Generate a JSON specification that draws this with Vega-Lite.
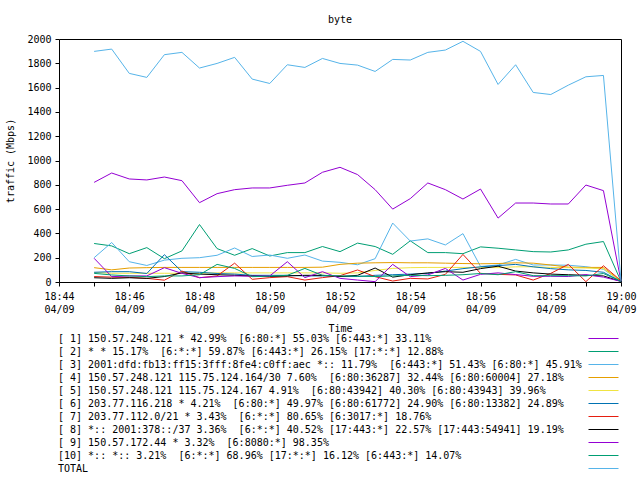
{
"$schema": "https://vega.github.io/schema/vega-lite/v6.json",
"width": 562, "height": 243,
"autosize": {"type": "none"},
"padding": {"left": 59, "top": 39, "right": 19, "bottom": 198},
"background": "white",
"title": {"text": "byte", "offset": 9, "font": "DejaVu Sans Mono", "fontSize": 10, "fontWeight": "normal", "color": "black", "anchor": "middle"},
"data": {"values": [
{"k":1,"t":"2021-04-09T18:45:00","v":820},{"k":1,"t":"2021-04-09T18:45:30","v":897},{"k":1,"t":"2021-04-09T18:46:00","v":848},{"k":1,"t":"2021-04-09T18:46:30","v":840},{"k":1,"t":"2021-04-09T18:47:00","v":864},{"k":1,"t":"2021-04-09T18:47:30","v":834},{"k":1,"t":"2021-04-09T18:48:00","v":653},{"k":1,"t":"2021-04-09T18:48:30","v":727},{"k":1,"t":"2021-04-09T18:49:00","v":760},{"k":1,"t":"2021-04-09T18:49:30","v":774},{"k":1,"t":"2021-04-09T18:50:00","v":774},{"k":1,"t":"2021-04-09T18:50:30","v":796},{"k":1,"t":"2021-04-09T18:51:00","v":815},{"k":1,"t":"2021-04-09T18:51:30","v":903},{"k":1,"t":"2021-04-09T18:52:00","v":944},{"k":1,"t":"2021-04-09T18:52:30","v":884},{"k":1,"t":"2021-04-09T18:53:00","v":760},{"k":1,"t":"2021-04-09T18:53:30","v":600},{"k":1,"t":"2021-04-09T18:54:00","v":686},{"k":1,"t":"2021-04-09T18:54:30","v":815},{"k":1,"t":"2021-04-09T18:55:00","v":760},{"k":1,"t":"2021-04-09T18:55:30","v":683},{"k":1,"t":"2021-04-09T18:56:00","v":765},{"k":1,"t":"2021-04-09T18:56:30","v":526},{"k":1,"t":"2021-04-09T18:57:00","v":650},{"k":1,"t":"2021-04-09T18:57:30","v":650},{"k":1,"t":"2021-04-09T18:58:00","v":642},{"k":1,"t":"2021-04-09T18:58:30","v":642},{"k":1,"t":"2021-04-09T18:59:00","v":798},{"k":1,"t":"2021-04-09T18:59:30","v":752},{"k":1,"t":"2021-04-09T19:00:00","v":5},
{"k":2,"t":"2021-04-09T18:45:00","v":317},{"k":2,"t":"2021-04-09T18:45:30","v":297},{"k":2,"t":"2021-04-09T18:46:00","v":233},{"k":2,"t":"2021-04-09T18:46:30","v":283},{"k":2,"t":"2021-04-09T18:47:00","v":192},{"k":2,"t":"2021-04-09T18:47:30","v":256},{"k":2,"t":"2021-04-09T18:48:00","v":473},{"k":2,"t":"2021-04-09T18:48:30","v":275},{"k":2,"t":"2021-04-09T18:49:00","v":220},{"k":2,"t":"2021-04-09T18:49:30","v":275},{"k":2,"t":"2021-04-09T18:50:00","v":214},{"k":2,"t":"2021-04-09T18:50:30","v":242},{"k":2,"t":"2021-04-09T18:51:00","v":242},{"k":2,"t":"2021-04-09T18:51:30","v":292},{"k":2,"t":"2021-04-09T18:52:00","v":250},{"k":2,"t":"2021-04-09T18:52:30","v":320},{"k":2,"t":"2021-04-09T18:53:00","v":292},{"k":2,"t":"2021-04-09T18:53:30","v":228},{"k":2,"t":"2021-04-09T18:54:00","v":339},{"k":2,"t":"2021-04-09T18:54:30","v":242},{"k":2,"t":"2021-04-09T18:55:00","v":242},{"k":2,"t":"2021-04-09T18:55:30","v":233},{"k":2,"t":"2021-04-09T18:56:00","v":289},{"k":2,"t":"2021-04-09T18:56:30","v":278},{"k":2,"t":"2021-04-09T18:57:00","v":264},{"k":2,"t":"2021-04-09T18:57:30","v":250},{"k":2,"t":"2021-04-09T18:58:00","v":247},{"k":2,"t":"2021-04-09T18:58:30","v":264},{"k":2,"t":"2021-04-09T18:59:00","v":311},{"k":2,"t":"2021-04-09T18:59:30","v":333},{"k":2,"t":"2021-04-09T19:00:00","v":5},
{"k":3,"t":"2021-04-09T18:45:00","v":200},{"k":3,"t":"2021-04-09T18:45:30","v":325},{"k":3,"t":"2021-04-09T18:46:00","v":167},{"k":3,"t":"2021-04-09T18:46:30","v":136},{"k":3,"t":"2021-04-09T18:47:00","v":180},{"k":3,"t":"2021-04-09T18:47:30","v":195},{"k":3,"t":"2021-04-09T18:48:00","v":200},{"k":3,"t":"2021-04-09T18:48:30","v":220},{"k":3,"t":"2021-04-09T18:49:00","v":280},{"k":3,"t":"2021-04-09T18:49:30","v":210},{"k":3,"t":"2021-04-09T18:50:00","v":222},{"k":3,"t":"2021-04-09T18:50:30","v":195},{"k":3,"t":"2021-04-09T18:51:00","v":222},{"k":3,"t":"2021-04-09T18:51:30","v":172},{"k":3,"t":"2021-04-09T18:52:00","v":162},{"k":3,"t":"2021-04-09T18:52:30","v":142},{"k":3,"t":"2021-04-09T18:53:00","v":192},{"k":3,"t":"2021-04-09T18:53:30","v":485},{"k":3,"t":"2021-04-09T18:54:00","v":337},{"k":3,"t":"2021-04-09T18:54:30","v":355},{"k":3,"t":"2021-04-09T18:55:00","v":305},{"k":3,"t":"2021-04-09T18:55:30","v":398},{"k":3,"t":"2021-04-09T18:56:00","v":128},{"k":3,"t":"2021-04-09T18:56:30","v":140},{"k":3,"t":"2021-04-09T18:57:00","v":186},{"k":3,"t":"2021-04-09T18:57:30","v":140},{"k":3,"t":"2021-04-09T18:58:00","v":140},{"k":3,"t":"2021-04-09T18:58:30","v":138},{"k":3,"t":"2021-04-09T18:59:00","v":126},{"k":3,"t":"2021-04-09T18:59:30","v":105},{"k":3,"t":"2021-04-09T19:00:00","v":5},
{"k":4,"t":"2021-04-09T18:45:00","v":118},{"k":4,"t":"2021-04-09T18:45:30","v":100},{"k":4,"t":"2021-04-09T18:46:00","v":115},{"k":4,"t":"2021-04-09T18:46:30","v":118},{"k":4,"t":"2021-04-09T18:47:00","v":120},{"k":4,"t":"2021-04-09T18:47:30","v":120},{"k":4,"t":"2021-04-09T18:48:00","v":120},{"k":4,"t":"2021-04-09T18:48:30","v":120},{"k":4,"t":"2021-04-09T18:49:00","v":120},{"k":4,"t":"2021-04-09T18:49:30","v":120},{"k":4,"t":"2021-04-09T18:50:00","v":120},{"k":4,"t":"2021-04-09T18:50:30","v":120},{"k":4,"t":"2021-04-09T18:51:00","v":120},{"k":4,"t":"2021-04-09T18:51:30","v":122},{"k":4,"t":"2021-04-09T18:52:00","v":145},{"k":4,"t":"2021-04-09T18:52:30","v":155},{"k":4,"t":"2021-04-09T18:53:00","v":158},{"k":4,"t":"2021-04-09T18:53:30","v":160},{"k":4,"t":"2021-04-09T18:54:00","v":158},{"k":4,"t":"2021-04-09T18:54:30","v":158},{"k":4,"t":"2021-04-09T18:55:00","v":155},{"k":4,"t":"2021-04-09T18:55:30","v":152},{"k":4,"t":"2021-04-09T18:56:00","v":150},{"k":4,"t":"2021-04-09T18:56:30","v":152},{"k":4,"t":"2021-04-09T18:57:00","v":158},{"k":4,"t":"2021-04-09T18:57:30","v":155},{"k":4,"t":"2021-04-09T18:58:00","v":140},{"k":4,"t":"2021-04-09T18:58:30","v":122},{"k":4,"t":"2021-04-09T18:59:00","v":120},{"k":4,"t":"2021-04-09T18:59:30","v":120},{"k":4,"t":"2021-04-09T19:00:00","v":5},
{"k":5,"t":"2021-04-09T18:45:00","v":78},{"k":5,"t":"2021-04-09T18:45:30","v":72},{"k":5,"t":"2021-04-09T18:46:00","v":72},{"k":5,"t":"2021-04-09T18:46:30","v":72},{"k":5,"t":"2021-04-09T18:47:00","v":72},{"k":5,"t":"2021-04-09T18:47:30","v":72},{"k":5,"t":"2021-04-09T18:48:00","v":72},{"k":5,"t":"2021-04-09T18:48:30","v":75},{"k":5,"t":"2021-04-09T18:49:00","v":75},{"k":5,"t":"2021-04-09T18:49:30","v":75},{"k":5,"t":"2021-04-09T18:50:00","v":75},{"k":5,"t":"2021-04-09T18:50:30","v":75},{"k":5,"t":"2021-04-09T18:51:00","v":75},{"k":5,"t":"2021-04-09T18:51:30","v":75},{"k":5,"t":"2021-04-09T18:52:00","v":72},{"k":5,"t":"2021-04-09T18:52:30","v":75},{"k":5,"t":"2021-04-09T18:53:00","v":95},{"k":5,"t":"2021-04-09T18:53:30","v":112},{"k":5,"t":"2021-04-09T18:54:00","v":118},{"k":5,"t":"2021-04-09T18:54:30","v":120},{"k":5,"t":"2021-04-09T18:55:00","v":120},{"k":5,"t":"2021-04-09T18:55:30","v":120},{"k":5,"t":"2021-04-09T18:56:00","v":120},{"k":5,"t":"2021-04-09T18:56:30","v":118},{"k":5,"t":"2021-04-09T18:57:00","v":125},{"k":5,"t":"2021-04-09T18:57:30","v":125},{"k":5,"t":"2021-04-09T18:58:00","v":120},{"k":5,"t":"2021-04-09T18:58:30","v":118},{"k":5,"t":"2021-04-09T18:59:00","v":115},{"k":5,"t":"2021-04-09T18:59:30","v":110},{"k":5,"t":"2021-04-09T19:00:00","v":5},
{"k":6,"t":"2021-04-09T18:45:00","v":80},{"k":6,"t":"2021-04-09T18:45:30","v":85},{"k":6,"t":"2021-04-09T18:46:00","v":85},{"k":6,"t":"2021-04-09T18:46:30","v":70},{"k":6,"t":"2021-04-09T18:47:00","v":225},{"k":6,"t":"2021-04-09T18:47:30","v":85},{"k":6,"t":"2021-04-09T18:48:00","v":80},{"k":6,"t":"2021-04-09T18:48:30","v":70},{"k":6,"t":"2021-04-09T18:49:00","v":65},{"k":6,"t":"2021-04-09T18:49:30","v":55},{"k":6,"t":"2021-04-09T18:50:00","v":55},{"k":6,"t":"2021-04-09T18:50:30","v":55},{"k":6,"t":"2021-04-09T18:51:00","v":50},{"k":6,"t":"2021-04-09T18:51:30","v":50},{"k":6,"t":"2021-04-09T18:52:00","v":45},{"k":6,"t":"2021-04-09T18:52:30","v":45},{"k":6,"t":"2021-04-09T18:53:00","v":55},{"k":6,"t":"2021-04-09T18:53:30","v":60},{"k":6,"t":"2021-04-09T18:54:00","v":65},{"k":6,"t":"2021-04-09T18:54:30","v":70},{"k":6,"t":"2021-04-09T18:55:00","v":90},{"k":6,"t":"2021-04-09T18:55:30","v":110},{"k":6,"t":"2021-04-09T18:56:00","v":125},{"k":6,"t":"2021-04-09T18:56:30","v":135},{"k":6,"t":"2021-04-09T18:57:00","v":145},{"k":6,"t":"2021-04-09T18:57:30","v":125},{"k":6,"t":"2021-04-09T18:58:00","v":110},{"k":6,"t":"2021-04-09T18:58:30","v":100},{"k":6,"t":"2021-04-09T18:59:00","v":95},{"k":6,"t":"2021-04-09T18:59:30","v":80},{"k":6,"t":"2021-04-09T19:00:00","v":5},
{"k":7,"t":"2021-04-09T18:45:00","v":45},{"k":7,"t":"2021-04-09T18:45:30","v":40},{"k":7,"t":"2021-04-09T18:46:00","v":38},{"k":7,"t":"2021-04-09T18:46:30","v":30},{"k":7,"t":"2021-04-09T18:47:00","v":15},{"k":7,"t":"2021-04-09T18:47:30","v":90},{"k":7,"t":"2021-04-09T18:48:00","v":35},{"k":7,"t":"2021-04-09T18:48:30","v":50},{"k":7,"t":"2021-04-09T18:49:00","v":155},{"k":7,"t":"2021-04-09T18:49:30","v":22},{"k":7,"t":"2021-04-09T18:50:00","v":36},{"k":7,"t":"2021-04-09T18:50:30","v":44},{"k":7,"t":"2021-04-09T18:51:00","v":16},{"k":7,"t":"2021-04-09T18:51:30","v":36},{"k":7,"t":"2021-04-09T18:52:00","v":52},{"k":7,"t":"2021-04-09T18:52:30","v":99},{"k":7,"t":"2021-04-09T18:53:00","v":44},{"k":7,"t":"2021-04-09T18:53:30","v":8},{"k":7,"t":"2021-04-09T18:54:00","v":30},{"k":7,"t":"2021-04-09T18:54:30","v":25},{"k":7,"t":"2021-04-09T18:55:00","v":63},{"k":7,"t":"2021-04-09T18:55:30","v":227},{"k":7,"t":"2021-04-09T18:56:00","v":71},{"k":7,"t":"2021-04-09T18:56:30","v":63},{"k":7,"t":"2021-04-09T18:57:00","v":58},{"k":7,"t":"2021-04-09T18:57:30","v":16},{"k":7,"t":"2021-04-09T18:58:00","v":71},{"k":7,"t":"2021-04-09T18:58:30","v":145},{"k":7,"t":"2021-04-09T18:59:00","v":3},{"k":7,"t":"2021-04-09T18:59:30","v":134},{"k":7,"t":"2021-04-09T19:00:00","v":10},
{"k":8,"t":"2021-04-09T18:45:00","v":35},{"k":8,"t":"2021-04-09T18:45:30","v":30},{"k":8,"t":"2021-04-09T18:46:00","v":35},{"k":8,"t":"2021-04-09T18:46:30","v":30},{"k":8,"t":"2021-04-09T18:47:00","v":45},{"k":8,"t":"2021-04-09T18:47:30","v":75},{"k":8,"t":"2021-04-09T18:48:00","v":65},{"k":8,"t":"2021-04-09T18:48:30","v":60},{"k":8,"t":"2021-04-09T18:49:00","v":55},{"k":8,"t":"2021-04-09T18:49:30","v":50},{"k":8,"t":"2021-04-09T18:50:00","v":45},{"k":8,"t":"2021-04-09T18:50:30","v":50},{"k":8,"t":"2021-04-09T18:51:00","v":55},{"k":8,"t":"2021-04-09T18:51:30","v":55},{"k":8,"t":"2021-04-09T18:52:00","v":45},{"k":8,"t":"2021-04-09T18:52:30","v":55},{"k":8,"t":"2021-04-09T18:53:00","v":115},{"k":8,"t":"2021-04-09T18:53:30","v":40},{"k":8,"t":"2021-04-09T18:54:00","v":60},{"k":8,"t":"2021-04-09T18:54:30","v":75},{"k":8,"t":"2021-04-09T18:55:00","v":85},{"k":8,"t":"2021-04-09T18:55:30","v":80},{"k":8,"t":"2021-04-09T18:56:00","v":110},{"k":8,"t":"2021-04-09T18:56:30","v":130},{"k":8,"t":"2021-04-09T18:57:00","v":90},{"k":8,"t":"2021-04-09T18:57:30","v":75},{"k":8,"t":"2021-04-09T18:58:00","v":65},{"k":8,"t":"2021-04-09T18:58:30","v":60},{"k":8,"t":"2021-04-09T18:59:00","v":55},{"k":8,"t":"2021-04-09T18:59:30","v":50},{"k":8,"t":"2021-04-09T19:00:00","v":5},
{"k":9,"t":"2021-04-09T18:45:00","v":195},{"k":9,"t":"2021-04-09T18:45:30","v":44},{"k":9,"t":"2021-04-09T18:46:00","v":50},{"k":9,"t":"2021-04-09T18:46:30","v":50},{"k":9,"t":"2021-04-09T18:47:00","v":118},{"k":9,"t":"2021-04-09T18:47:30","v":71},{"k":9,"t":"2021-04-09T18:48:00","v":36},{"k":9,"t":"2021-04-09T18:48:30","v":44},{"k":9,"t":"2021-04-09T18:49:00","v":50},{"k":9,"t":"2021-04-09T18:49:30","v":48},{"k":9,"t":"2021-04-09T18:50:00","v":50},{"k":9,"t":"2021-04-09T18:50:30","v":167},{"k":9,"t":"2021-04-09T18:51:00","v":36},{"k":9,"t":"2021-04-09T18:51:30","v":85},{"k":9,"t":"2021-04-09T18:52:00","v":30},{"k":9,"t":"2021-04-09T18:52:30","v":16},{"k":9,"t":"2021-04-09T18:53:00","v":3},{"k":9,"t":"2021-04-09T18:53:30","v":145},{"k":9,"t":"2021-04-09T18:54:00","v":44},{"k":9,"t":"2021-04-09T18:54:30","v":58},{"k":9,"t":"2021-04-09T18:55:00","v":112},{"k":9,"t":"2021-04-09T18:55:30","v":16},{"k":9,"t":"2021-04-09T18:56:00","v":63},{"k":9,"t":"2021-04-09T18:56:30","v":75},{"k":9,"t":"2021-04-09T18:57:00","v":61},{"k":9,"t":"2021-04-09T18:57:30","v":47},{"k":9,"t":"2021-04-09T18:58:00","v":47},{"k":9,"t":"2021-04-09T18:58:30","v":45},{"k":9,"t":"2021-04-09T18:59:00","v":61},{"k":9,"t":"2021-04-09T18:59:30","v":40},{"k":9,"t":"2021-04-09T19:00:00","v":5},
{"k":10,"t":"2021-04-09T18:45:00","v":71},{"k":10,"t":"2021-04-09T18:45:30","v":58},{"k":10,"t":"2021-04-09T18:46:00","v":50},{"k":10,"t":"2021-04-09T18:46:30","v":44},{"k":10,"t":"2021-04-09T18:47:00","v":50},{"k":10,"t":"2021-04-09T18:47:30","v":50},{"k":10,"t":"2021-04-09T18:48:00","v":60},{"k":10,"t":"2021-04-09T18:48:30","v":145},{"k":10,"t":"2021-04-09T18:49:00","v":112},{"k":10,"t":"2021-04-09T18:49:30","v":44},{"k":10,"t":"2021-04-09T18:50:00","v":48},{"k":10,"t":"2021-04-09T18:50:30","v":55},{"k":10,"t":"2021-04-09T18:51:00","v":112},{"k":10,"t":"2021-04-09T18:51:30","v":55},{"k":10,"t":"2021-04-09T18:52:00","v":50},{"k":10,"t":"2021-04-09T18:52:30","v":48},{"k":10,"t":"2021-04-09T18:53:00","v":45},{"k":10,"t":"2021-04-09T18:53:30","v":50},{"k":10,"t":"2021-04-09T18:54:00","v":55},{"k":10,"t":"2021-04-09T18:54:30","v":52},{"k":10,"t":"2021-04-09T18:55:00","v":55},{"k":10,"t":"2021-04-09T18:55:30","v":60},{"k":10,"t":"2021-04-09T18:56:00","v":70},{"k":10,"t":"2021-04-09T18:56:30","v":60},{"k":10,"t":"2021-04-09T18:57:00","v":85},{"k":10,"t":"2021-04-09T18:57:30","v":52},{"k":10,"t":"2021-04-09T18:58:00","v":52},{"k":10,"t":"2021-04-09T18:58:30","v":52},{"k":10,"t":"2021-04-09T18:59:00","v":50},{"k":10,"t":"2021-04-09T18:59:30","v":70},{"k":10,"t":"2021-04-09T19:00:00","v":5},
{"k":11,"t":"2021-04-09T18:45:00","v":1898},{"k":11,"t":"2021-04-09T18:45:30","v":1917},{"k":11,"t":"2021-04-09T18:46:00","v":1717},{"k":11,"t":"2021-04-09T18:46:30","v":1684},{"k":11,"t":"2021-04-09T18:47:00","v":1871},{"k":11,"t":"2021-04-09T18:47:30","v":1890},{"k":11,"t":"2021-04-09T18:48:00","v":1761},{"k":11,"t":"2021-04-09T18:48:30","v":1799},{"k":11,"t":"2021-04-09T18:49:00","v":1849},{"k":11,"t":"2021-04-09T18:49:30","v":1670},{"k":11,"t":"2021-04-09T18:50:00","v":1634},{"k":11,"t":"2021-04-09T18:50:30","v":1788},{"k":11,"t":"2021-04-09T18:51:00","v":1766},{"k":11,"t":"2021-04-09T18:51:30","v":1840},{"k":11,"t":"2021-04-09T18:52:00","v":1799},{"k":11,"t":"2021-04-09T18:52:30","v":1785},{"k":11,"t":"2021-04-09T18:53:00","v":1733},{"k":11,"t":"2021-04-09T18:53:30","v":1832},{"k":11,"t":"2021-04-09T18:54:00","v":1827},{"k":11,"t":"2021-04-09T18:54:30","v":1890},{"k":11,"t":"2021-04-09T18:55:00","v":1909},{"k":11,"t":"2021-04-09T18:55:30","v":1981},{"k":11,"t":"2021-04-09T18:56:00","v":1898},{"k":11,"t":"2021-04-09T18:56:30","v":1626},{"k":11,"t":"2021-04-09T18:57:00","v":1788},{"k":11,"t":"2021-04-09T18:57:30","v":1560},{"k":11,"t":"2021-04-09T18:58:00","v":1543},{"k":11,"t":"2021-04-09T18:58:30","v":1620},{"k":11,"t":"2021-04-09T18:59:00","v":1689},{"k":11,"t":"2021-04-09T18:59:30","v":1700},{"k":11,"t":"2021-04-09T19:00:00","v":10}
]},
"transform": [
{"lookup": "k", "from": {"data": {"values": [
{"k":1,"label":"[ 1] 150.57.248.121 * 42.99% \u00a0[6:80:*] 55.03% [6:443:*] 33.11%"},
{"k":2,"label":"[ 2] * * 15.17% \u00a0[6:*:*] 59.87% [6:443:*] 26.15% [17:*:*] 12.88%"},
{"k":3,"label":"[ 3] 2001:dfd:fb13:ff15:3fff:8fe4:c0ff:aec *:: 11.79% \u00a0[6:443:*] 51.43% [6:80:*] 45.91%"},
{"k":4,"label":"[ 4] 150.57.248.121 115.75.124.164/30 7.60% \u00a0[6:80:36287] 32.44% [6:80:60004] 27.18%"},
{"k":5,"label":"[ 5] 150.57.248.121 115.75.124.167 4.91% \u00a0[6:80:43942] 40.30% [6:80:43943] 39.96%"},
{"k":6,"label":"[ 6] 203.77.116.218 * 4.21% \u00a0[6:80:*] 49.97% [6:80:61772] 24.90% [6:80:13382] 24.89%"},
{"k":7,"label":"[ 7] 203.77.112.0/21 * 3.43% \u00a0[6:*:*] 80.65% [6:3017:*] 18.76%"},
{"k":8,"label":"[ 8] *:: 2001:378::/37 3.36% \u00a0[6:*:*] 40.52% [17:443:*] 22.57% [17:443:54941] 19.19%"},
{"k":9,"label":"[ 9] 150.57.172.44 * 3.32% \u00a0[6:8080:*] 98.35%"},
{"k":10,"label":"[10] *:: *:: 3.21% \u00a0[6:*:*] 68.96% [17:*:*] 16.12% [6:443:*] 14.07%"},
{"k":11,"label":"TOTAL"}
]}, "key": "k", "fields": ["label"]}}
],
"mark": {"type": "line", "strokeWidth": 1},
"encoding": {
"x": {"field": "t", "type": "temporal", "title": "Time",
"scale": {"domain": [{"year": 2021, "month": 4, "date": 9, "hours": 18, "minutes": 44}, {"year": 2021, "month": 4, "date": 9, "hours": 19, "minutes": 0}], "nice": false},
"axis": {"values": [
{"year": 2021, "month": 4, "date": 9, "hours": 18, "minutes": 44},{"year": 2021, "month": 4, "date": 9, "hours": 18, "minutes": 45},{"year": 2021, "month": 4, "date": 9, "hours": 18, "minutes": 46},{"year": 2021, "month": 4, "date": 9, "hours": 18, "minutes": 47},{"year": 2021, "month": 4, "date": 9, "hours": 18, "minutes": 48},{"year": 2021, "month": 4, "date": 9, "hours": 18, "minutes": 49},{"year": 2021, "month": 4, "date": 9, "hours": 18, "minutes": 50},{"year": 2021, "month": 4, "date": 9, "hours": 18, "minutes": 51},{"year": 2021, "month": 4, "date": 9, "hours": 18, "minutes": 52},{"year": 2021, "month": 4, "date": 9, "hours": 18, "minutes": 53},{"year": 2021, "month": 4, "date": 9, "hours": 18, "minutes": 54},{"year": 2021, "month": 4, "date": 9, "hours": 18, "minutes": 55},{"year": 2021, "month": 4, "date": 9, "hours": 18, "minutes": 56},{"year": 2021, "month": 4, "date": 9, "hours": 18, "minutes": 57},{"year": 2021, "month": 4, "date": 9, "hours": 18, "minutes": 58},{"year": 2021, "month": 4, "date": 9, "hours": 18, "minutes": 59},{"year": 2021, "month": 4, "date": 9, "hours": 19, "minutes": 0}],
"labelExpr": "minutes(datum.value) % 2 == 0 ? [timeFormat(datum.value, '%H:%M'), timeFormat(datum.value, '%m/%d')] : ''",
"labelFlush": false, "labelOverlap": false, "labelPadding": 5, "tickSize": 4, "labelLineHeight": 13, "titlePadding": 9}},
"y": {"field": "v", "type": "quantitative", "title": "traffic (Mbps)",
"scale": {"domain": [0, 2000], "nice": false},
"axis": {"values": [0, 200, 400, 600, 800, 1000, 1200, 1400, 1600, 1800, 2000], "format": "d", "tickSize": 4, "labelPadding": 4, "titlePadding": 11}},
"color": {"field": "label", "type": "nominal", "sort": {"field": "k", "op": "min"},
"scale": {"range": ["#9400D3", "#009E73", "#56B4E9", "#E69F00", "#F0E442", "#0072B2", "#E51E10", "#000000", "#9400D3", "#009E73", "#56B4E9"]},
"legend": {"orient": "none", "legendX": -1, "legendY": 294, "title": null, "labelLimit": 700, "labelFont": "DejaVu Sans Mono", "labelFontSize": 10, "labelColor": "black",
"symbolType": "M-3,0H3", "symbolSize": 100, "symbolStrokeWidth": 1, "symbolOffset": 540, "labelOffset": -551}}
},
"config": {
"view": {"stroke": "black", "strokeWidth": 1},
"axis": {"grid": false, "domain": false, "labelFont": "DejaVu Sans Mono", "labelFontSize": 10, "labelColor": "black", "titleFont": "DejaVu Sans Mono", "titleFontSize": 10, "titleFontWeight": "normal", "titleColor": "black", "tickColor": "black", "tickWidth": 1}
}
}
